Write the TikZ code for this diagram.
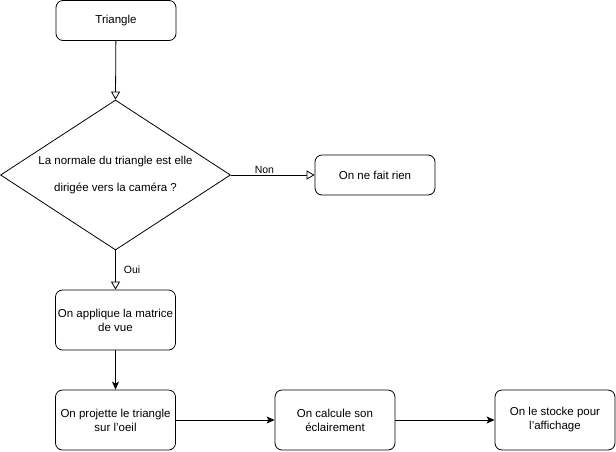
\documentclass[tikz,border=0pt]{standalone}
\usepackage{fontspec}
\setmainfont{Liberation Sans}
\usetikzlibrary{arrows.meta,shapes.geometric}
\begin{document}
\begin{tikzpicture}[x=1pt,y=-1pt,
  box/.style={draw,line width=0.8pt,rounded corners=7pt,minimum width=120pt,minimum height=40pt,align=center,font=\fontsize{11.5}{14}\selectfont,inner sep=1pt},
  tall/.style={box,minimum height=60pt},
  dec/.style={draw,line width=0.8pt,diamond,minimum width=230pt,minimum height=150pt,aspect=1.533,inner sep=0pt,align=center,font=\fontsize{11.5}{27}\selectfont},
  openarr/.style={line width=0.8pt,-{Triangle[open,length=8pt,width=9pt]}},
  fillarr/.style={line width=0.8pt,-{Stealth[length=8pt,width=7pt,inset=2pt]}},
  lbl/.style={font=\fontsize{10.5}{12}\selectfont}]
\useasboundingbox (0,0) rectangle (616,451);
\node[box] (tri) at (116,20.5) {Triangle};
\node[dec] (q) at (115.5,175) {La normale du triangle est elle\\dirigée vers la caméra ?};
\node[box] (rien) at (375,175) {On ne fait rien};
\node[tall] (vue) at (115.5,320) {On applique la matrice\\de vue};
\node[tall] (proj) at (115.5,420) {On projette le triangle\\sur l'oeil};
\node[tall] (ecl) at (335,420) {On calcule son\\éclairement};
\node[tall] (sto) at (555,420) {On le stocke pour\\l'affichage};
\draw[openarr] (tri) -- (q.north);
\draw[openarr] (q.east) -- node[lbl,above,pos=0.4,inner sep=1pt] {Non} (rien);
\draw[openarr] (q.south) -- node[lbl,right,inner sep=8pt] {Oui} (vue);
\draw[fillarr] (vue) -- (proj);
\draw[fillarr] (proj) -- (ecl);
\draw[fillarr] (ecl) -- (sto);
\end{tikzpicture}
\end{document}
